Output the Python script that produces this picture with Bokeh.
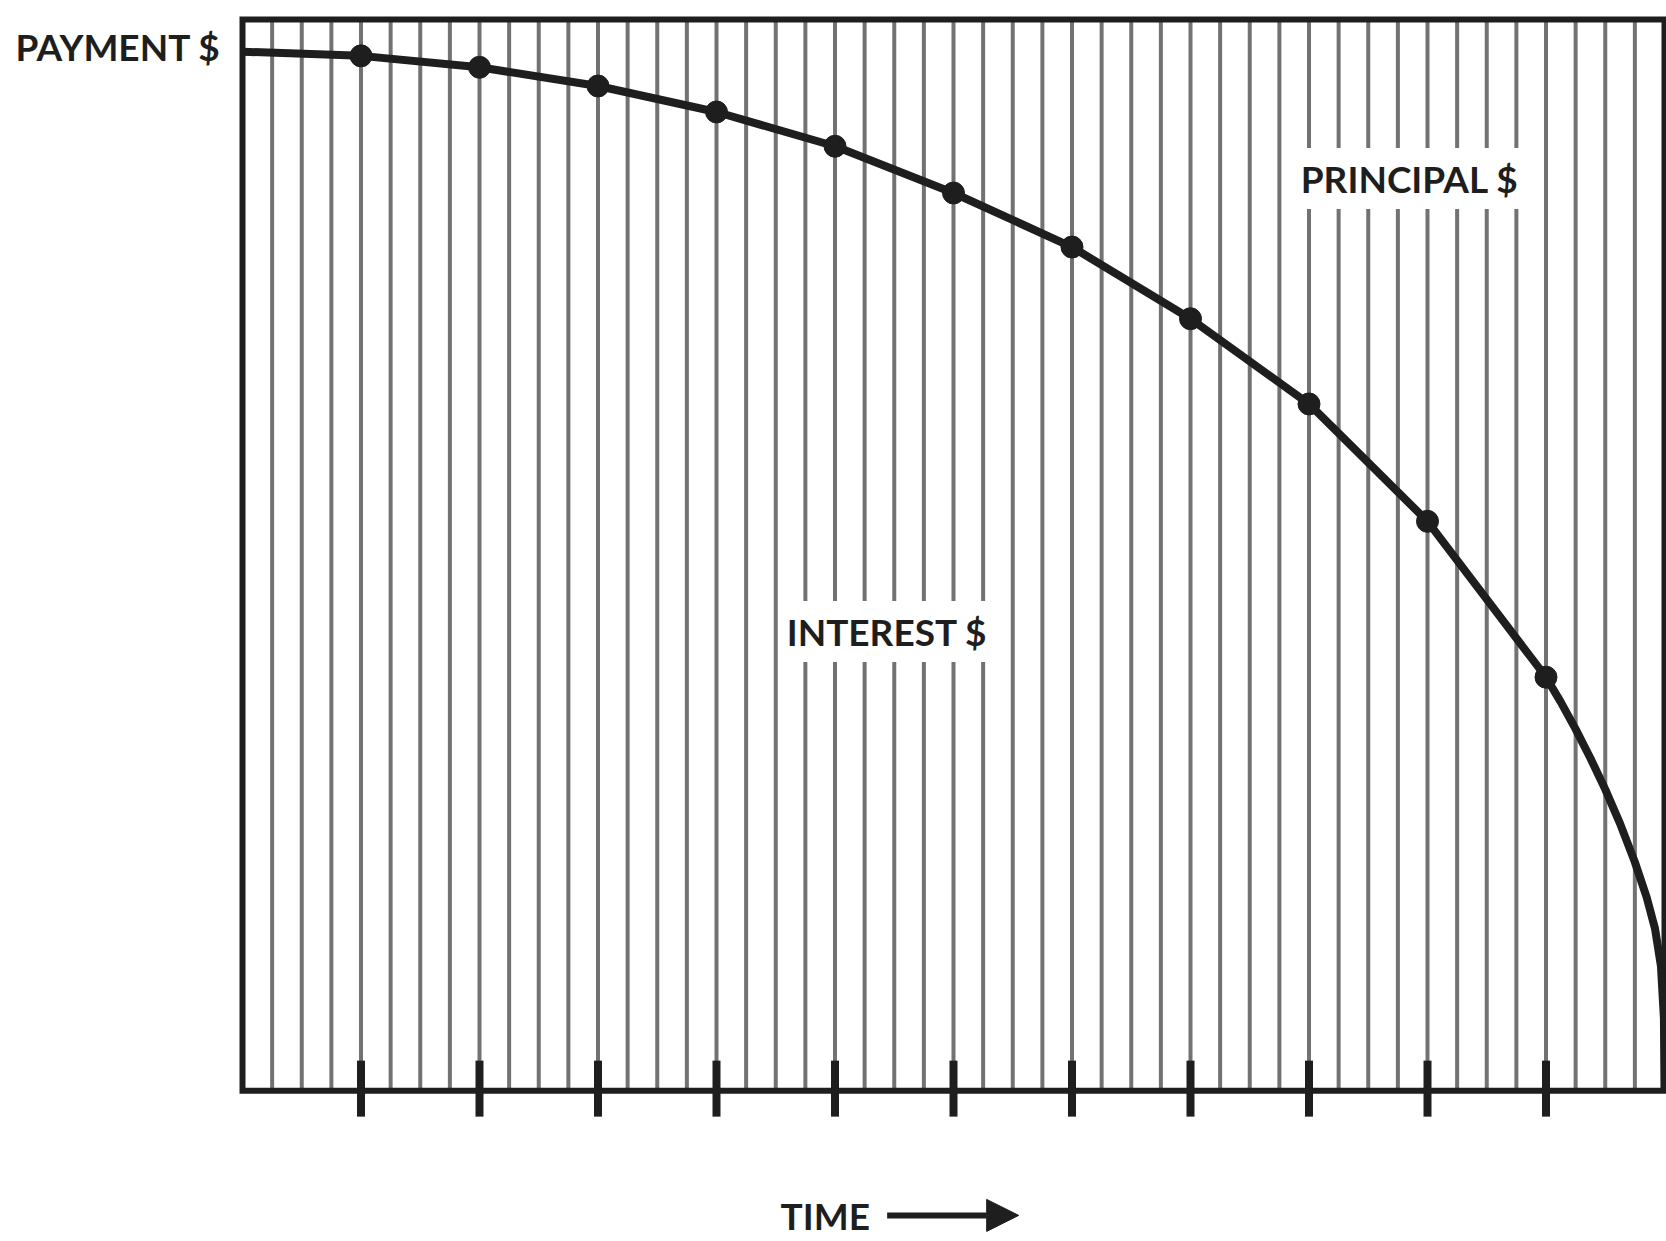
from bokeh.plotting import figure
from bokeh.models import Range1d, Label, Arrow, NormalHead
from bokeh.embed import file_html
from bokeh.resources import INLINE

# ---- data ----
periods = [1, 2, 3, 4, 5, 6, 7, 8, 9, 10, 11]
interest_at_period = [99.6, 98.5, 96.7, 94.2, 90.9, 86.4, 81.2, 74.3, 66.1, 54.8, 39.8]
curve_t = [0, 1, 2, 3, 4, 5, 6, 7, 8, 9, 10, 11,
           11.125, 11.25, 11.375, 11.5, 11.625, 11.75, 11.85, 11.92, 11.97, 11.995, 12.0]
curve_v = [100, 99.6, 98.5, 96.7, 94.2, 90.9, 86.4, 81.2, 74.3, 66.1, 54.8, 39.8,
           37.4, 34.8, 32.0, 29.0, 25.7, 22.0, 18.6, 15.6, 12.0, 7.0, 0]
n_periods = 12
payments_per_period = 4
tick_periods = [1, 2, 3, 4, 5, 6, 7, 8, 9, 10, 11]
box_top = 103.1
payment_times = [k / payments_per_period for k in range(1, n_periods * payments_per_period)]

FONT = "Lato"
INK = "#1e1e1e"

W, H = 1666, 1241
px_per_t = 118.5
px_per_v = 10.39
x0_px, ytop_px = 242, 19
p = figure(width=W, height=H, output_backend="svg", toolbar_location=None,
           x_range=Range1d(-x0_px / px_per_t, (W - x0_px) / px_per_t),
           y_range=Range1d(box_top - (H - ytop_px) / px_per_v, box_top + ytop_px / px_per_v),
           min_border=0)
p.axis.visible = False
p.grid.visible = False
p.outline_line_color = None
p.background_fill_color = "white"
p.border_fill_color = "white"

# vertical payment lines
p.segment(x0=payment_times, y0=[0] * len(payment_times),
          x1=payment_times, y1=[box_top] * len(payment_times),
          line_color="#727272", line_width=4)

# chart box
p.quad(left=[0], right=[n_periods], bottom=[0], top=[box_top], fill_color=None,
       line_color=INK, line_width=6, line_join="miter")

# ticks on the time axis
p.rect(x=tick_periods, y=[0.2] * len(tick_periods), width=8, height=56,
       width_units="screen", height_units="screen", fill_color=INK, line_color=None)

# curve and dots
p.line(curve_t, curve_v, line_color=INK, line_width=8, line_join="round")
p.scatter(periods, interest_at_period, size=22, fill_color=INK, line_color=INK)

def lab(x, y, text, align="center", bg=None):
    l = Label(x=x, y=y, text=text, text_align=align, text_baseline="middle",
              text_font=FONT, text_font_style="bold", text_font_size="37px",
              text_color=INK)
    if bg:
        l.background_fill_color = bg
        l.padding = 8
    p.add_layout(l)

lab(-1.916, 100.5, "PAYMENT $", align="left")
lab(9.85, 87.8, "PRINCIPAL $", bg="white")
lab(5.44, 44.2, "INTEREST $", bg="white")
lab(4.54, -12.0, "TIME", align="left")

p.add_layout(Arrow(x_start=5.44, y_start=-12.0, x_end=6.55, y_end=-12.0,
                   line_width=6, line_color=INK,
                   end=NormalHead(size=32, fill_color=INK, line_color=INK)))

open("out.html", "w").write(file_html(p, INLINE))
